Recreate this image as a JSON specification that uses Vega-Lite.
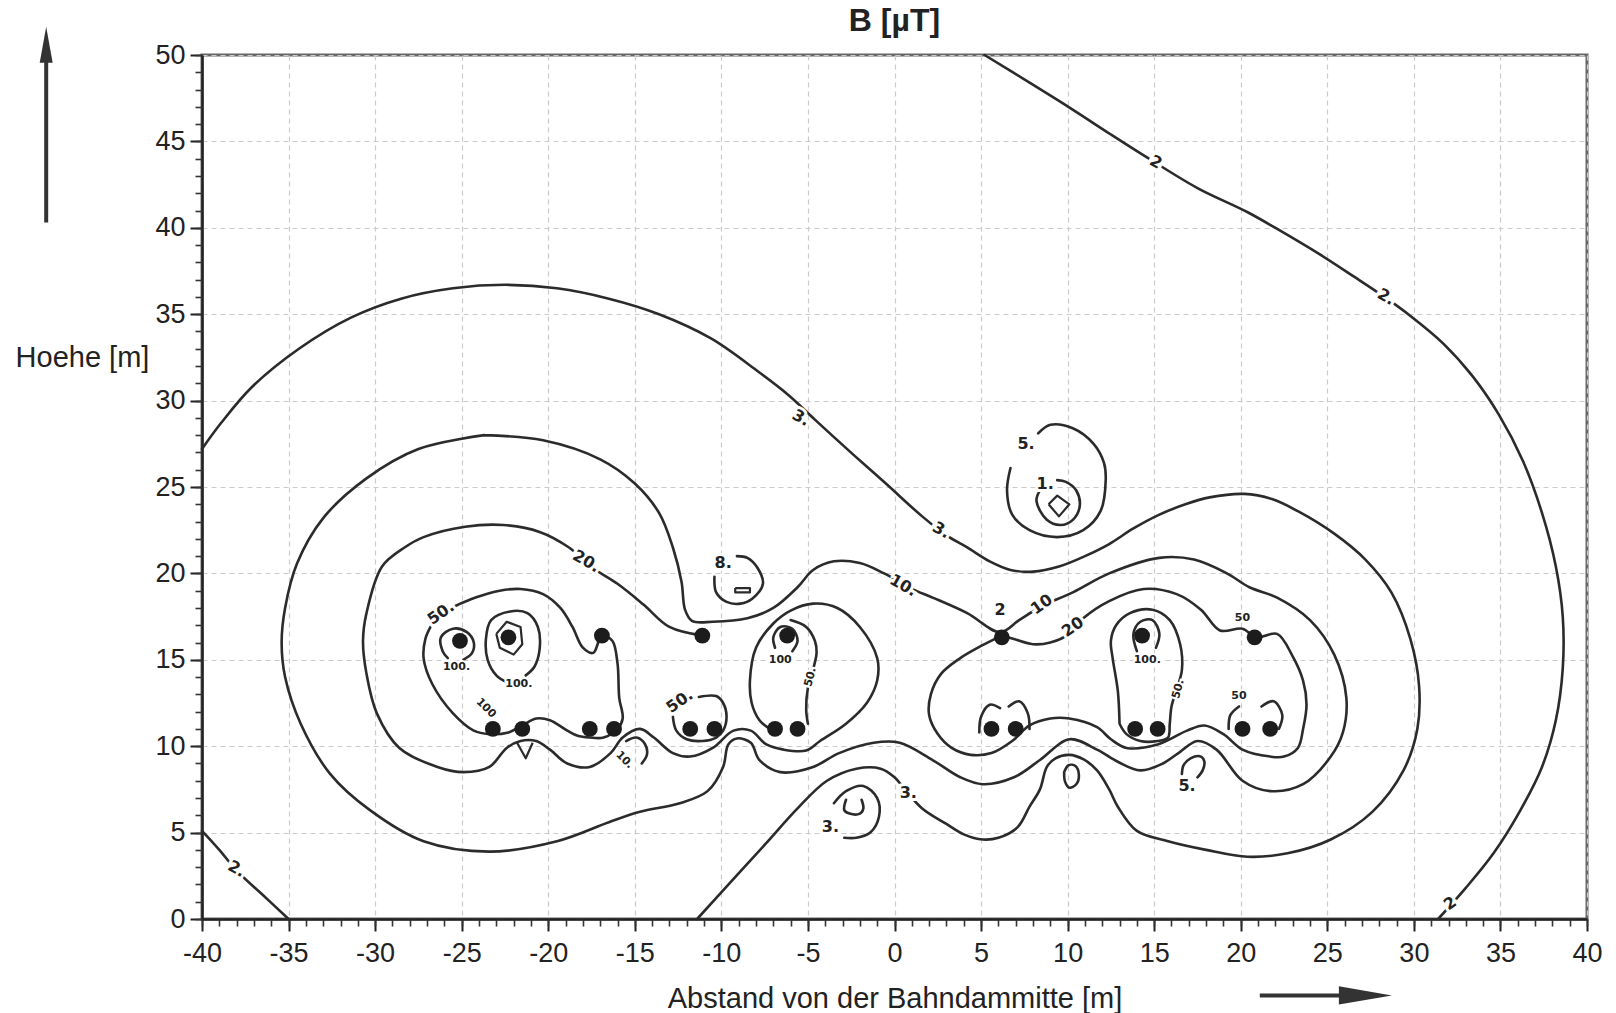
{
  "$schema": "https://vega.github.io/schema/vega-lite/v6.json",
  "width": 1385,
  "height": 864,
  "autosize": {"type": "none"},
  "padding": {"left": 202, "top": 55, "right": 29, "bottom": 94},
  "background": "white",
  "title": {"text": "B [µT]", "font": "Liberation Sans", "fontSize": 32, "fontWeight": "bold", "color": "#222", "anchor": "middle", "frame": "group", "offset": -11},
  "config": {"view": {"stroke": "#666", "strokeWidth": 3}},
  "datasets": {
    "lines": [
      {"c":"2a","x":5.2,"y":50},{"c":"2a","x":7.8,"y":48.4},{"c":"2a","x":10.2,"y":46.9},{"c":"2a","x":12.5,"y":45.4},{"c":"2a","x":14.7,"y":44.0},{"c":"2a","x":17.5,"y":42.3},{"c":"2a","x":20.4,"y":40.9},{"c":"2a","x":22.5,"y":39.7},{"c":"2a","x":24.5,"y":38.5},{"c":"2a","x":26.5,"y":37.2},{"c":"2a","x":28.3,"y":36.0},{"c":"2a","x":29.8,"y":34.9},{"c":"2a","x":31.7,"y":33.3},{"c":"2a","x":33.4,"y":31.4},{"c":"2a","x":34.9,"y":29.2},{"c":"2a","x":36.3,"y":26.5},{"c":"2a","x":37.4,"y":23.5},{"c":"2a","x":38.2,"y":20.4},{"c":"2a","x":38.6,"y":17.5},{"c":"2a","x":38.6,"y":14.5},{"c":"2a","x":38.2,"y":11.5},{"c":"2a","x":37.4,"y":8.8},{"c":"2a","x":36.1,"y":6.2},{"c":"2a","x":34.6,"y":3.8},{"c":"2a","x":33.0,"y":1.8},{"c":"2a","x":31.4,"y":0},
      {"c":"2b","x":-40,"y":5.1},{"c":"2b","x":-39.0,"y":4.0},{"c":"2b","x":-38.0,"y":2.8},{"c":"2b","x":-36.5,"y":1.4},{"c":"2b","x":-35.0,"y":0},
      {"c":"3","x":-40,"y":27.2},{"c":"3","x":-38.9,"y":28.7},{"c":"3","x":-37.1,"y":30.8},{"c":"3","x":-34.4,"y":33.0},{"c":"3","x":-31.4,"y":34.8},{"c":"3","x":-28.5,"y":35.9},{"c":"3","x":-25.5,"y":36.5},{"c":"3","x":-22.5,"y":36.7},{"c":"3","x":-19.5,"y":36.5},{"c":"3","x":-16.5,"y":35.9},{"c":"3","x":-13.6,"y":35.0},{"c":"3","x":-10.6,"y":33.6},{"c":"3","x":-7.9,"y":31.7},{"c":"3","x":-6.1,"y":30.3},{"c":"3","x":-4.6,"y":28.9},{"c":"3","x":-2.3,"y":26.8},{"c":"3","x":-0.5,"y":25.2},{"c":"3","x":1.6,"y":23.3},{"c":"3","x":3.0,"y":22.2},{"c":"3","x":4.2,"y":21.5},{"c":"3","x":5.5,"y":20.7},{"c":"3","x":6.7,"y":20.2},{"c":"3","x":8.0,"y":20.1},{"c":"3","x":9.5,"y":20.4},{"c":"3","x":11.0,"y":21.0},{"c":"3","x":12.4,"y":21.7},{"c":"3","x":13.8,"y":22.6},{"c":"3","x":15.3,"y":23.4},{"c":"3","x":16.8,"y":24.0},{"c":"3","x":18.2,"y":24.4},{"c":"3","x":20.2,"y":24.6},{"c":"3","x":21.8,"y":24.3},{"c":"3","x":23.3,"y":23.6},{"c":"3","x":25.4,"y":22.3},{"c":"3","x":27.2,"y":20.8},{"c":"3","x":28.7,"y":18.9},{"c":"3","x":29.8,"y":16.2},{"c":"3","x":30.3,"y":13.5},{"c":"3","x":30.2,"y":11.0},{"c":"3","x":29.4,"y":8.6},{"c":"3","x":27.6,"y":6.2},{"c":"3","x":25.2,"y":4.6},{"c":"3","x":22.7,"y":3.8},{"c":"3","x":20.4,"y":3.6},{"c":"3","x":18.0,"y":4.0},{"c":"3","x":15.8,"y":4.5},{"c":"3","x":14.0,"y":5.1},{"c":"3","x":12.9,"y":6.5},{"c":"3","x":12.4,"y":7.5},{"c":"3","x":11.7,"y":8.6},{"c":"3","x":10.9,"y":9.25},{"c":"3","x":10.1,"y":9.5},{"c":"3","x":9.3,"y":9.3},{"c":"3","x":8.8,"y":8.8},{"c":"3","x":8.4,"y":7.5},{"c":"3","x":7.8,"y":6.5},{"c":"3","x":7.1,"y":5.3},{"c":"3","x":6.0,"y":4.7},{"c":"3","x":5.1,"y":4.6},{"c":"3","x":4.0,"y":4.9},{"c":"3","x":3.0,"y":5.5},{"c":"3","x":1.6,"y":6.4},{"c":"3","x":0.6,"y":7.5},{"c":"3","x":0.0,"y":8.2},{"c":"3","x":-0.8,"y":8.7},{"c":"3","x":-2.2,"y":8.7},{"c":"3","x":-3.9,"y":8.0},{"c":"3","x":-5.6,"y":6.4},{"c":"3","x":-7.4,"y":4.4},{"c":"3","x":-9.4,"y":2.2},{"c":"3","x":-11.4,"y":0},
      {"c":"10","x":-23.7,"y":28.0},{"c":"10","x":-20.3,"y":27.7},{"c":"10","x":-17.0,"y":26.6},{"c":"10","x":-15.0,"y":25.2},{"c":"10","x":-13.6,"y":23.5},{"c":"10","x":-12.8,"y":21.5},{"c":"10","x":-12.3,"y":19.5},{"c":"10","x":-12.1,"y":17.9},{"c":"10","x":-11.7,"y":17.25},{"c":"10","x":-10.5,"y":17.2},{"c":"10","x":-8.5,"y":17.4},{"c":"10","x":-7.0,"y":18.0},{"c":"10","x":-5.6,"y":19.2},{"c":"10","x":-4.7,"y":20.2},{"c":"10","x":-3.5,"y":20.7},{"c":"10","x":-2.0,"y":20.6},{"c":"10","x":-0.6,"y":20.0},{"c":"10","x":1.0,"y":19.1},{"c":"10","x":2.2,"y":18.6},{"c":"10","x":4.2,"y":17.7},{"c":"10","x":6.1,"y":16.6},{"c":"10","x":7.2,"y":17.3},{"c":"10","x":8.5,"y":18.1},{"c":"10","x":10.3,"y":18.9},{"c":"10","x":12.4,"y":20.0},{"c":"10","x":15.3,"y":20.9},{"c":"10","x":17.3,"y":20.8},{"c":"10","x":19.2,"y":20.0},{"c":"10","x":20.5,"y":19.2},{"c":"10","x":22.1,"y":18.6},{"c":"10","x":24.0,"y":17.3},{"c":"10","x":25.4,"y":15.3},{"c":"10","x":26.1,"y":12.8},{"c":"10","x":25.9,"y":10.8},{"c":"10","x":25.2,"y":9.4},{"c":"10","x":23.6,"y":7.8},{"c":"10","x":21.7,"y":7.4},{"c":"10","x":20.1,"y":8.0},{"c":"10","x":18.6,"y":9.8},{"c":"10","x":17.5,"y":10.3},{"c":"10","x":16.4,"y":9.6},{"c":"10","x":15.5,"y":9.0},{"c":"10","x":14.2,"y":8.6},{"c":"10","x":12.9,"y":9.1},{"c":"10","x":11.7,"y":9.8},{"c":"10","x":10.1,"y":10.4},{"c":"10","x":8.4,"y":9.2},{"c":"10","x":6.9,"y":8.2},{"c":"10","x":5.1,"y":7.8},{"c":"10","x":3.8,"y":8.2},{"c":"10","x":2.2,"y":9.2},{"c":"10","x":0.3,"y":10.2},{"c":"10","x":-1.2,"y":10.2},{"c":"10","x":-3.2,"y":9.6},{"c":"10","x":-4.7,"y":8.8},{"c":"10","x":-6.6,"y":8.5},{"c":"10","x":-7.8,"y":9.2},{"c":"10","x":-8.3,"y":10.2},{"c":"10","x":-9.1,"y":10.45},{"c":"10","x":-9.6,"y":10.1},{"c":"10","x":-9.9,"y":8.8},{"c":"10","x":-10.8,"y":7.4},{"c":"10","x":-12.4,"y":6.7},{"c":"10","x":-14.7,"y":6.2},{"c":"10","x":-16.5,"y":5.6},{"c":"10","x":-19.5,"y":4.5},{"c":"10","x":-23.4,"y":3.9},{"c":"10","x":-27.2,"y":4.5},{"c":"10","x":-30.3,"y":6.3},{"c":"10","x":-32.6,"y":8.4},{"c":"10","x":-34.3,"y":11.3},{"c":"10","x":-35.2,"y":14.0},{"c":"10","x":-35.4,"y":16.0},{"c":"10","x":-35.2,"y":18.0},{"c":"10","x":-34.5,"y":20.6},{"c":"10","x":-33.0,"y":23.2},{"c":"10","x":-30.5,"y":25.5},{"c":"10","x":-27.5,"y":27.2},{"c":"10","x":-23.7,"y":28.0},
      {"c":"20","x":-11.1,"y":16.4},{"c":"20","x":-13.0,"y":16.9},{"c":"20","x":-14.5,"y":18.2},{"c":"20","x":-16.0,"y":19.4},{"c":"20","x":-17.4,"y":20.3},{"c":"20","x":-18.8,"y":21.5},{"c":"20","x":-20.5,"y":22.4},{"c":"20","x":-22.6,"y":22.8},{"c":"20","x":-24.8,"y":22.7},{"c":"20","x":-27.2,"y":22.1},{"c":"20","x":-28.3,"y":21.5},{"c":"20","x":-29.6,"y":20.4},{"c":"20","x":-30.5,"y":17.7},{"c":"20","x":-30.7,"y":16.1},{"c":"20","x":-30.5,"y":14.2},{"c":"20","x":-29.9,"y":11.9},{"c":"20","x":-28.6,"y":9.9},{"c":"20","x":-26.4,"y":8.8},{"c":"20","x":-24.9,"y":8.5},{"c":"20","x":-23.4,"y":8.8},{"c":"20","x":-22.4,"y":9.9},{"c":"20","x":-21.6,"y":10.3},{"c":"20","x":-20.7,"y":10.3},{"c":"20","x":-19.9,"y":9.8},{"c":"20","x":-18.9,"y":9.0},{"c":"20","x":-17.6,"y":8.8},{"c":"20","x":-16.4,"y":9.6},{"c":"20","x":-15.7,"y":10.5},{"c":"20","x":-14.7,"y":11.0},{"c":"20","x":-13.9,"y":10.5},{"c":"20","x":-12.8,"y":9.6},{"c":"20","x":-11.8,"y":9.4},{"c":"20","x":-10.5,"y":9.9},{"c":"20","x":-9.3,"y":10.9},{"c":"20","x":-8.3,"y":10.9},{"c":"20","x":-7.4,"y":10.1},{"c":"20","x":-6.4,"y":9.8},{"c":"20","x":-5.1,"y":9.75},{"c":"20","x":-4.3,"y":10.3},{"c":"20","x":-2.8,"y":11.3},{"c":"20","x":-1.6,"y":12.5},{"c":"20","x":-1.0,"y":13.8},{"c":"20","x":-1.0,"y":15.1},{"c":"20","x":-2.0,"y":16.9},{"c":"20","x":-3.3,"y":18.0},{"c":"20","x":-4.7,"y":18.25},{"c":"20","x":-6.0,"y":17.85},{"c":"20","x":-7.0,"y":17.1},{"c":"20","x":-8.0,"y":15.7},{"c":"20","x":-8.35,"y":13.8},{"c":"20","x":-8.25,"y":12.5},{"c":"20","x":-7.8,"y":11.5},{"c":"20","x":-7.2,"y":11.0},
      {"c":"20R","x":6.2,"y":16.4},{"c":"20R","x":6.9,"y":16.2},{"c":"20R","x":8.0,"y":15.9},{"c":"20R","x":9.0,"y":16.0},{"c":"20R","x":10.1,"y":16.5},{"c":"20R","x":10.9,"y":17.4},{"c":"20R","x":12.4,"y":18.4},{"c":"20R","x":14.4,"y":19.1},{"c":"20R","x":16.3,"y":18.8},{"c":"20R","x":17.7,"y":17.9},{"c":"20R","x":18.8,"y":16.7},{"c":"20R","x":20.1,"y":16.8},{"c":"20R","x":20.9,"y":16.3},{"c":"20R","x":22.1,"y":16.5},{"c":"20R","x":23.0,"y":15.2},{"c":"20R","x":23.6,"y":13.8},{"c":"20R","x":23.8,"y":12.4},{"c":"20R","x":23.6,"y":11.0},{"c":"20R","x":23.3,"y":9.9},{"c":"20R","x":22.5,"y":9.4},{"c":"20R","x":21.7,"y":9.4},{"c":"20R","x":20.1,"y":9.8},{"c":"20R","x":19.0,"y":10.7},{"c":"20R","x":17.9,"y":11.2},{"c":"20R","x":16.9,"y":10.9},{"c":"20R","x":15.2,"y":10.1},{"c":"20R","x":13.4,"y":9.9},{"c":"20R","x":12.5,"y":10.4},{"c":"20R","x":11.7,"y":11.1},{"c":"20R","x":10.1,"y":11.6},{"c":"20R","x":9.0,"y":11.6},{"c":"20R","x":7.8,"y":11.2},{"c":"20R","x":6.8,"y":10.3},{"c":"20R","x":5.6,"y":9.6},{"c":"20R","x":4.4,"y":9.5},{"c":"20R","x":3.3,"y":9.9},{"c":"20R","x":2.5,"y":10.7},{"c":"20R","x":2.0,"y":11.8},{"c":"20R","x":2.1,"y":13.0},{"c":"20R","x":2.7,"y":14.2},{"c":"20R","x":3.8,"y":15.1},{"c":"20R","x":5.0,"y":15.8},{"c":"20R","x":6.2,"y":16.4},
      {"c":"50L","x":-25.4,"y":18.1},{"c":"50L","x":-24.2,"y":18.6},{"c":"50L","x":-22.8,"y":19.0},{"c":"50L","x":-21.6,"y":19.1},{"c":"50L","x":-20.3,"y":18.8},{"c":"50L","x":-19.3,"y":18.0},{"c":"50L","x":-18.6,"y":16.9},{"c":"50L","x":-18.0,"y":15.7},{"c":"50L","x":-17.4,"y":15.4},{"c":"50L","x":-16.9,"y":16.4},{"c":"50L","x":-16.3,"y":16.1},{"c":"50L","x":-16.0,"y":14.8},{"c":"50L","x":-15.9,"y":12.8},{"c":"50L","x":-15.7,"y":11.6},{"c":"50L","x":-16.0,"y":11.0},{"c":"50L","x":-16.8,"y":10.5},{"c":"50L","x":-17.6,"y":10.5},{"c":"50L","x":-18.3,"y":10.6},{"c":"50L","x":-18.9,"y":10.9},{"c":"50L","x":-19.9,"y":11.5},{"c":"50L","x":-20.7,"y":11.6},{"c":"50L","x":-21.5,"y":11.2},{"c":"50L","x":-22.3,"y":10.8},{"c":"50L","x":-23.4,"y":10.7},{"c":"50L","x":-24.3,"y":10.9},{"c":"50L","x":-25.5,"y":11.9},{"c":"50L","x":-26.7,"y":13.6},{"c":"50L","x":-27.2,"y":15.1},{"c":"50L","x":-27.1,"y":16.2},{"c":"50L","x":-26.8,"y":16.9},
      {"c":"50a","x":-11.3,"y":12.85},{"c":"50a","x":-10.3,"y":12.9},{"c":"50a","x":-9.9,"y":12.5},{"c":"50a","x":-9.7,"y":11.7},{"c":"50a","x":-9.9,"y":10.9},{"c":"50a","x":-10.3,"y":10.5},{"c":"50a","x":-11.1,"y":10.3},{"c":"50a","x":-12.0,"y":10.4},{"c":"50a","x":-12.6,"y":10.9},{"c":"50a","x":-12.8,"y":11.7},
      {"c":"50m","x":-6.0,"y":17.3},{"c":"50m","x":-5.1,"y":16.9},{"c":"50m","x":-4.6,"y":16.1},{"c":"50m","x":-4.5,"y":15.4},{"c":"50m","x":-4.8,"y":14.1},{"c":"50m","x":-5.0,"y":13.4},{"c":"50m","x":-5.1,"y":12.1},{"c":"50m","x":-5.0,"y":11.3},
      {"c":"100m","x":-5.9,"y":15.5},{"c":"100m","x":-5.6,"y":16.1},{"c":"100m","x":-5.9,"y":16.8},{"c":"100m","x":-6.6,"y":16.9},{"c":"100m","x":-7.0,"y":16.3},{"c":"100m","x":-6.9,"y":15.7},
      {"c":"50c","x":13.0,"y":11.3},{"c":"50c","x":12.9,"y":13.2},{"c":"50c","x":12.6,"y":15.1},{"c":"50c","x":12.5,"y":16.1},{"c":"50c","x":12.8,"y":17.0},{"c":"50c","x":13.6,"y":17.7},{"c":"50c","x":14.9,"y":17.9},{"c":"50c","x":15.9,"y":17.3},{"c":"50c","x":16.5,"y":15.9},{"c":"50c","x":16.6,"y":14.4},{"c":"50c","x":16.3,"y":13.3},{"c":"50c","x":16.0,"y":12.3},{"c":"50c","x":15.9,"y":11.3},{"c":"50c","x":15.8,"y":10.5},{"c":"50c","x":15.2,"y":10.3},{"c":"50c","x":14.2,"y":10.3},{"c":"50c","x":13.4,"y":10.7},{"c":"50c","x":13.0,"y":11.3},
      {"c":"100d","x":14.0,"y":15.5},{"c":"100d","x":13.8,"y":16.5},{"c":"100d","x":14.2,"y":17.2},{"c":"100d","x":14.9,"y":17.3},{"c":"100d","x":15.3,"y":16.5},{"c":"100d","x":15.1,"y":15.7},
      {"c":"50d1","x":4.9,"y":10.8},{"c":"50d1","x":5.0,"y":11.7},{"c":"50d1","x":5.5,"y":12.4},{"c":"50d1","x":6.1,"y":12.2},
      {"c":"50d2","x":6.6,"y":12.3},{"c":"50d2","x":7.2,"y":12.6},{"c":"50d2","x":7.7,"y":11.9},{"c":"50d2","x":7.8,"y":11.0},
      {"c":"50e1","x":19.3,"y":11.0},{"c":"50e1","x":19.4,"y":11.8},{"c":"50e1","x":19.9,"y":12.3},
      {"c":"50e2","x":21.2,"y":12.3},{"c":"50e2","x":21.9,"y":12.6},{"c":"50e2","x":22.4,"y":11.8},{"c":"50e2","x":22.2,"y":11.0},
      {"c":"100a","x":-24.9,"y":15.0},{"c":"100a","x":-24.4,"y":15.4},{"c":"100a","x":-24.3,"y":16.0},{"c":"100a","x":-24.7,"y":16.6},{"c":"100a","x":-25.5,"y":16.8},{"c":"100a","x":-26.2,"y":16.3},{"c":"100a","x":-26.1,"y":15.5},{"c":"100a","x":-25.8,"y":15.1},
      {"c":"100b","x":-21.3,"y":14.1},{"c":"100b","x":-20.8,"y":14.6},{"c":"100b","x":-20.5,"y":15.6},{"c":"100b","x":-20.6,"y":16.9},{"c":"100b","x":-21.2,"y":17.7},{"c":"100b","x":-22.2,"y":17.8},{"c":"100b","x":-23.3,"y":17.3},{"c":"100b","x":-23.6,"y":16.2},{"c":"100b","x":-23.5,"y":15.0},{"c":"100b","x":-23.0,"y":14.1},{"c":"100b","x":-22.4,"y":13.7},
      {"c":"i1o","x":8.3,"y":28.1},{"c":"i1o","x":9.0,"y":28.6},{"c":"i1o","x":10.3,"y":28.4},{"c":"i1o","x":11.5,"y":27.5},{"c":"i1o","x":12.1,"y":26.4},{"c":"i1o","x":12.2,"y":25.4},{"c":"i1o","x":11.9,"y":23.6},{"c":"i1o","x":10.9,"y":22.5},{"c":"i1o","x":9.4,"y":22.1},{"c":"i1o","x":7.8,"y":22.5},{"c":"i1o","x":6.8,"y":23.4},{"c":"i1o","x":6.5,"y":24.8},{"c":"i1o","x":6.7,"y":26.1},
      {"c":"i1i","x":9.4,"y":25.4},{"c":"i1i","x":9.9,"y":25.3},{"c":"i1i","x":10.5,"y":24.8},{"c":"i1i","x":10.7,"y":23.9},{"c":"i1i","x":10.3,"y":23.1},{"c":"i1i","x":9.6,"y":22.8},{"c":"i1i","x":8.8,"y":23.1},{"c":"i1i","x":8.2,"y":24.2},{"c":"i1i","x":8.4,"y":24.8},
      {"c":"i2o","x":-9.1,"y":21.0},{"c":"i2o","x":-8.5,"y":20.9},{"c":"i2o","x":-7.9,"y":20.3},{"c":"i2o","x":-7.6,"y":19.4},{"c":"i2o","x":-8.2,"y":18.55},{"c":"i2o","x":-8.9,"y":18.25},{"c":"i2o","x":-9.7,"y":18.35},{"c":"i2o","x":-10.3,"y":18.9},{"c":"i2o","x":-10.4,"y":19.8},
      {"c":"i3o","x":-3.5,"y":6.7},{"c":"i3o","x":-2.8,"y":7.4},{"c":"i3o","x":-1.8,"y":7.7},{"c":"i3o","x":-1.0,"y":7.0},{"c":"i3o","x":-0.9,"y":5.9},{"c":"i3o","x":-1.4,"y":5.0},{"c":"i3o","x":-2.2,"y":4.7},{"c":"i3o","x":-2.9,"y":4.7},
      {"c":"i3i","x":-2.8,"y":6.9},{"c":"i3i","x":-2.9,"y":6.3},{"c":"i3i","x":-2.6,"y":6.1},{"c":"i3i","x":-2.0,"y":6.1},{"c":"i3i","x":-1.8,"y":6.4},{"c":"i3i","x":-1.9,"y":6.9},
      {"c":"i4","x":9.8,"y":8.5},{"c":"i4","x":10.05,"y":8.9},{"c":"i4","x":10.45,"y":8.85},{"c":"i4","x":10.65,"y":8.35},{"c":"i4","x":10.5,"y":7.8},{"c":"i4","x":10.1,"y":7.6},{"c":"i4","x":9.85,"y":7.95},{"c":"i4","x":9.8,"y":8.5},
      {"c":"h1","x":16.6,"y":8.4},{"c":"h1","x":16.7,"y":8.9},{"c":"h1","x":17.1,"y":9.3},{"c":"h1","x":17.7,"y":9.4},{"c":"h1","x":17.9,"y":9.1},{"c":"h1","x":17.8,"y":8.6},{"c":"h1","x":17.5,"y":8.2},
      {"c":"h2","x":-15.5,"y":10.3},{"c":"h2","x":-14.9,"y":10.5},{"c":"h2","x":-14.4,"y":10.1},{"c":"h2","x":-14.3,"y":9.5},{"c":"h2","x":-14.6,"y":9.0}
    ],
    "shapes": [
      {"c":"v1","x":-21.8,"y":10.2},{"c":"v1","x":-21.3,"y":9.3},{"c":"v1","x":-20.9,"y":10.2},
      {"c":"hex","x":-23.0,"y":16.5},{"c":"hex","x":-22.4,"y":17.2},{"c":"hex","x":-21.6,"y":16.9},{"c":"hex","x":-21.5,"y":15.9},{"c":"hex","x":-22.0,"y":15.3},{"c":"hex","x":-22.8,"y":15.7},{"c":"hex","x":-23.0,"y":16.5},
      {"c":"rect","x":-9.2,"y":19.15},{"c":"rect","x":-8.35,"y":19.15},{"c":"rect","x":-8.35,"y":18.9},{"c":"rect","x":-9.2,"y":18.9},{"c":"rect","x":-9.2,"y":19.15},
      {"c":"dia","x":8.9,"y":24.0},{"c":"dia","x":9.4,"y":24.5},{"c":"dia","x":10.1,"y":24.0},{"c":"dia","x":9.5,"y":23.3},{"c":"dia","x":8.9,"y":24.0}
    ],
    "dots": [
      {"x":-25.1,"y":16.1},{"x":-22.3,"y":16.3},{"x":-16.9,"y":16.4},{"x":-23.2,"y":11.0},{"x":-21.5,"y":11.0},{"x":-17.6,"y":11.0},{"x":-16.2,"y":11.0},
      {"x":-11.1,"y":16.4},{"x":-11.8,"y":11.0},{"x":-10.4,"y":11.0},{"x":-6.2,"y":16.4},{"x":-6.9,"y":11.0},{"x":-5.6,"y":11.0},
      {"x":6.2,"y":16.3},{"x":5.6,"y":11.0},{"x":7.0,"y":11.0},{"x":14.3,"y":16.4},{"x":13.9,"y":11.0},{"x":15.2,"y":11.0},{"x":20.8,"y":16.3},{"x":20.1,"y":11.0},{"x":21.7,"y":11.0}
    ],
    "arrows": [
      {"x":-49,"y":40.3,"x2":-49,"y2":49.6},
      {"x":21.1,"y":-4.42,"x2":26.2,"y2":-4.42}
    ],
    "headUp": [{"x":-49,"y":50.6}],
    "headRight": [{"x":27.2,"y":-4.42}],
    "lfall": [
      {"t":"2","x":15.1,"y":43.8},{"t":"2.","x":28.4,"y":36.0},{"t":"3.","x":-5.4,"y":29.0},{"t":"3.","x":2.7,"y":22.5},{"t":"20.","x":-17.8,"y":20.7},{"t":"10.","x":0.5,"y":19.3},{"t":"2.","x":-38.0,"y":2.9}
    ],
    "lrise": [
      {"t":"10","x":8.5,"y":18.2},{"t":"2","x":32.1,"y":0.9},{"t":"20","x":10.3,"y":16.9},{"t":"50.","x":-26.2,"y":17.7},{"t":"50.","x":-12.4,"y":12.6}
    ],
    "lflat": [
      {"t":"3.","x":0.8,"y":7.3},{"t":"5.","x":16.9,"y":7.7},{"t":"3.","x":-3.7,"y":5.3},{"t":"8.","x":-9.9,"y":20.6},{"t":"5.","x":7.6,"y":27.5},{"t":"1.","x":8.7,"y":25.2},{"t":"2","x":6.1,"y":17.9}
    ],
    "sflat": [
      {"t":"100.","x":-25.3,"y":14.6},{"t":"100.","x":-21.7,"y":13.6},{"t":"100","x":-6.6,"y":15.0},{"t":"100.","x":14.6,"y":15.0},{"t":"50","x":19.9,"y":12.9},{"t":"50","x":20.1,"y":17.4}
    ],
    "svert": [
      {"t":"50.","x":-4.85,"y":14.0},{"t":"50.","x":16.4,"y":13.3}
    ],
    "sfall": [
      {"t":"100","x":-23.6,"y":12.2},{"t":"10.","x":-15.6,"y":9.2}
    ]
  },
  "encoding": {
    "x": {"field": "x", "type": "quantitative", "scale": {"domain": [-40, 40], "nice": false, "zero": false}, "axis": null},
    "y": {"field": "y", "type": "quantitative", "scale": {"domain": [0, 50], "nice": false, "zero": false}, "axis": null}
  },
  "layer": [
    {
      "data": {"name": "lines"},
      "mark": {"type": "line", "interpolate": "catmull-rom", "stroke": "#2b2b2b", "strokeWidth": 2.6, "strokeJoin": "round", "strokeCap": "round"},
      "encoding": {
        "x": {"field": "x", "type": "quantitative", "scale": {"domain": [-40, 40], "nice": false, "zero": false},
          "axis": {"orient": "bottom", "values": [-40,-35,-30,-25,-20,-15,-10,-5,0,5,10,15,20,25,30,35,40], "labelExpr": "'' + datum.value", "title": "Abstand von der Bahndammitte [m]", "grid": true, "gridColor": "#cbcbcb", "gridDash": [5,4], "gridWidth": 1.2, "tickSize": 12, "tickWidth": 2, "tickColor": "#222", "domainColor": "#222", "domainWidth": 2.5, "labelFont": "Liberation Sans", "labelFontSize": 27, "labelColor": "#222", "labelPadding": 9, "labelFlush": false, "labelOverlap": false, "titleFont": "Liberation Sans", "titleFontSize": 29, "titleFontWeight": "normal", "titleColor": "#222", "titlePadding": 18}},
        "y": {"field": "y", "type": "quantitative", "scale": {"domain": [0, 50], "nice": false, "zero": false},
          "axis": {"orient": "left", "values": [0,5,10,15,20,25,30,35,40,45,50], "labelExpr": "'' + datum.value", "title": "Hoehe [m]", "titleAngle": 0, "titleX": -120, "titleY": 302, "titleAlign": "center", "titleBaseline": "middle", "grid": true, "gridColor": "#cbcbcb", "gridDash": [5,4], "gridWidth": 1.2, "tickSize": 12, "tickWidth": 2, "tickColor": "#222", "domainColor": "#222", "domainWidth": 2.5, "labelFont": "Liberation Sans", "labelFontSize": 27, "labelColor": "#222", "labelPadding": 5, "labelFlush": false, "labelOverlap": false, "titleFont": "Liberation Sans", "titleFontSize": 29, "titleFontWeight": "normal", "titleColor": "#222"}},
        "detail": {"field": "c"},
        "order": {"value": null}
      }
    },
    {
      "data": {"name": "shapes"},
      "mark": {"type": "line", "interpolate": "linear", "stroke": "#2b2b2b", "strokeWidth": 2.2, "strokeJoin": "round"},
      "encoding": {"detail": {"field": "c"}, "order": {"value": null}}
    },
    {
      "data": {"name": "dots"},
      "mark": {"type": "point", "filled": true, "color": "#1c1c1c", "size": 250, "opacity": 1, "shape": "circle"},
      "encoding": {
        "x": {"field": "x", "type": "quantitative", "scale": {"domain": [-40, 40], "nice": false, "zero": false},
          "axis": {"orient": "bottom", "values": [-40,-39,-38,-37,-36,-35,-34,-33,-32,-31,-30,-29,-28,-27,-26,-25,-24,-23,-22,-21,-20,-19,-18,-17,-16,-15,-14,-13,-12,-11,-10,-9,-8,-7,-6,-5,-4,-3,-2,-1,0,1,2,3,4,5,6,7,8,9,10,11,12,13,14,15,16,17,18,19,20,21,22,23,24,25,26,27,28,29,30,31,32,33,34,35,36,37,38,39,40], "labels": false, "grid": false, "domain": false, "ticks": true, "tickSize": 7, "tickWidth": 1.6, "tickColor": "#333", "title": null}},
        "y": {"field": "y", "type": "quantitative", "scale": {"domain": [0, 50], "nice": false, "zero": false},
          "axis": {"orient": "left", "values": [0,1,2,3,4,5,6,7,8,9,10,11,12,13,14,15,16,17,18,19,20,21,22,23,24,25,26,27,28,29,30,31,32,33,34,35,36,37,38,39,40,41,42,43,44,45,46,47,48,49,50], "labels": false, "grid": false, "domain": false, "ticks": true, "tickSize": 7, "tickWidth": 1.6, "tickColor": "#333", "title": null}}
      }
    },
    {
      "data": {"name": "arrows"},
      "mark": {"type": "rule", "strokeWidth": 4, "color": "#333"},
      "encoding": {"x2": {"field": "x2"}, "y2": {"field": "y2"}}
    },
    {
      "data": {"name": "headUp"},
      "mark": {"type": "point", "filled": true, "color": "#333", "opacity": 1, "size": 1296, "shape": "M0,-1L0.36,1L-0.36,1Z"},
      "encoding": {}
    },
    {
      "data": {"name": "headRight"},
      "mark": {"type": "point", "filled": true, "color": "#333", "opacity": 1, "size": 2809, "shape": "M1,0L-1,-0.34L-1,0.34Z"},
      "encoding": {}
    },
    {"data": {"name": "lfall"}, "mark": {"type": "text", "font": "DejaVu Sans", "fontWeight": "bold", "fontSize": 16, "angle": 30, "align": "center", "baseline": "middle", "color": "white", "stroke": "white", "strokeWidth": 6}, "encoding": {"text": {"field": "t"}}},
    {"data": {"name": "lfall"}, "mark": {"type": "text", "font": "DejaVu Sans", "fontWeight": "bold", "fontSize": 16, "angle": 30, "align": "center", "baseline": "middle", "color": "#222"}, "encoding": {"text": {"field": "t"}}},
    {"data": {"name": "lrise"}, "mark": {"type": "text", "font": "DejaVu Sans", "fontWeight": "bold", "fontSize": 16, "angle": -35, "align": "center", "baseline": "middle", "color": "white", "stroke": "white", "strokeWidth": 6}, "encoding": {"text": {"field": "t"}}},
    {"data": {"name": "lrise"}, "mark": {"type": "text", "font": "DejaVu Sans", "fontWeight": "bold", "fontSize": 16, "angle": -35, "align": "center", "baseline": "middle", "color": "#222"}, "encoding": {"text": {"field": "t"}}},
    {"data": {"name": "lflat"}, "mark": {"type": "text", "font": "DejaVu Sans", "fontWeight": "bold", "fontSize": 16, "align": "center", "baseline": "middle", "color": "white", "stroke": "white", "strokeWidth": 6}, "encoding": {"text": {"field": "t"}}},
    {"data": {"name": "lflat"}, "mark": {"type": "text", "font": "DejaVu Sans", "fontWeight": "bold", "fontSize": 16, "align": "center", "baseline": "middle", "color": "#222"}, "encoding": {"text": {"field": "t"}}},
    {"data": {"name": "sflat"}, "mark": {"type": "text", "font": "DejaVu Sans", "fontWeight": "bold", "fontSize": 11, "align": "center", "baseline": "middle", "color": "white", "stroke": "white", "strokeWidth": 4}, "encoding": {"text": {"field": "t"}}},
    {"data": {"name": "sflat"}, "mark": {"type": "text", "font": "DejaVu Sans", "fontWeight": "bold", "fontSize": 11, "align": "center", "baseline": "middle", "color": "#222"}, "encoding": {"text": {"field": "t"}}},
    {"data": {"name": "svert"}, "mark": {"type": "text", "font": "DejaVu Sans", "fontWeight": "bold", "fontSize": 11, "angle": -75, "align": "center", "baseline": "middle", "color": "white", "stroke": "white", "strokeWidth": 4}, "encoding": {"text": {"field": "t"}}},
    {"data": {"name": "svert"}, "mark": {"type": "text", "font": "DejaVu Sans", "fontWeight": "bold", "fontSize": 11, "angle": -75, "align": "center", "baseline": "middle", "color": "#222"}, "encoding": {"text": {"field": "t"}}},
    {"data": {"name": "sfall"}, "mark": {"type": "text", "font": "DejaVu Sans", "fontWeight": "bold", "fontSize": 11, "angle": 45, "align": "center", "baseline": "middle", "color": "white", "stroke": "white", "strokeWidth": 4}, "encoding": {"text": {"field": "t"}}},
    {"data": {"name": "sfall"}, "mark": {"type": "text", "font": "DejaVu Sans", "fontWeight": "bold", "fontSize": 11, "angle": 45, "align": "center", "baseline": "middle", "color": "#222"}, "encoding": {"text": {"field": "t"}}}
  ],
  "resolve": {"axis": {"x": "independent", "y": "independent"}}
}
